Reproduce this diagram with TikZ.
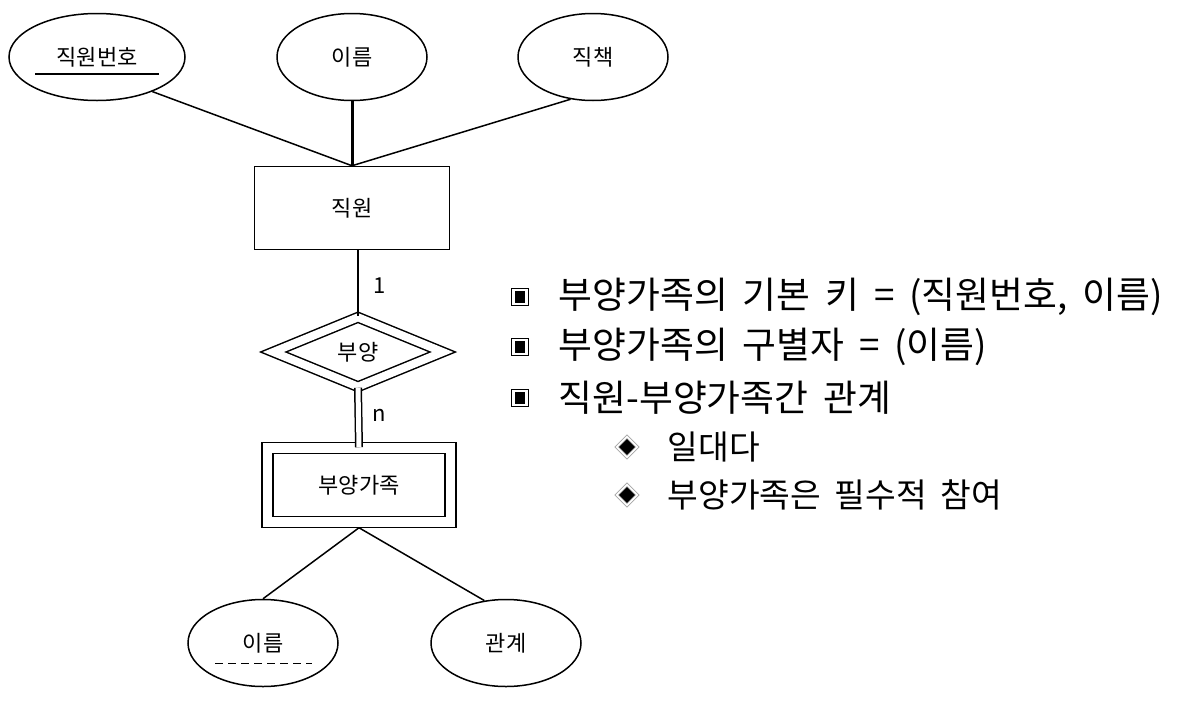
\documentclass[tikz,border=0pt]{standalone}
\usepackage{fontspec}
\setmainfont{Noto Sans CJK KR}
\newfontfamily\notefont[WordSpace=1.8]{Noto Sans CJK KR}
\usetikzlibrary{calc, positioning, shapes.geometric}

\begin{document}
\begin{tikzpicture}[
  x=0.5pt, y=-0.5pt,
  line width=0.75pt,
  attr/.style={ellipse, draw, minimum width=75pt, minimum height=43.5pt, inner sep=0pt, font=\fontsize{11pt}{13pt}\selectfont},
  entity/.style={rectangle, draw, minimum width=97.5pt, minimum height=41.5pt, inner sep=0pt, font=\fontsize{11pt}{13pt}\selectfont},
  weakent/.style={entity, double, double distance=4.6pt, minimum width=91.5pt, minimum height=37pt},
  weakrel/.style={diamond, draw, double, double distance=4pt, aspect=2.4, minimum width=85pt, minimum height=35pt, inner sep=0pt, font=\fontsize{11pt}{13pt}\selectfont},
  card/.style={font=\fontsize{11pt}{13pt}\selectfont, inner sep=0pt},
  item/.style={anchor=west, inner sep=0pt, font=\notefont\fontsize{18.4pt}{20pt}\selectfont},
  subitem/.style={item, font=\notefont\fontsize{16.7pt}{19pt}\selectfont},
  boxbullet/.style={rectangle, draw, line width=0.5pt, minimum size=8.5pt, inner sep=0pt,
    path picture={\fill ($(path picture bounding box.center)+(-2.6pt,-2.9pt)$) rectangle ++(5.2pt,5.8pt);}},
  dmdbullet/.style={diamond, fill=black, draw=gray!70, line width=0.4pt, double=white, double distance=0.8pt, minimum size=10.5pt, inner sep=0pt}
]
  \useasboundingbox (0,0) rectangle (1183,702);

  % entity and its attributes
  \node[attr, minimum width=88pt] (empno) at (97,57) {직원번호};
  \node[attr] (ename) at (352,57) {이름};
  \node[attr] (title) at (593,57) {직책};
  \node[entity] (emp) at (352,208) {직원};

  \draw[line width=1pt] ($(empno.center)+(-62,17)$) -- ($(empno.center)+(62,17)$);

  \draw (empno.-32) -- (emp.north);
  \draw[line width=1.5pt] (ename.south) -- (emp.north);
  \draw (title.-118) -- (emp.north);

  % weak relationship
  \node[weakrel] (dep) at (358,352) {부양};
  \node[weakent] (family) at (359,485) {부양가족};

  \draw (dep.north |- emp.south) -- (dep.north);
  \draw[double, double distance=2.5pt] (dep.south) -- (family.north);
  \node[card] (one) at (380,286) {1};
  \node[card] (many) at (379,415) {n};

  % attributes of the weak entity
  \node[attr] (fname) at (263,643) {이름};
  \node[attr] (relation) at (506,643) {관계};

  \draw[dashed, dash pattern=on 4pt off 2.5pt, line width=0.5pt] ($(fname.center)+(-48,20)$) -- ($(fname.center)+(49,20)$);

  \draw ($(family.south)+(0,5)$) -- (fname.north);
  \draw ($(family.south)+(0,5)$) -- (relation.117);

  % notes
  \node[boxbullet] (b1) at (520,297) {};
  \node[item] (t1) at (558,297) {부양가족의 기본 키 = (직원번호, 이름)};
  \node[boxbullet] (b2) at (520,347) {};
  \node[item] (t2) at (558,347) {부양가족의 구별자 = (이름)};
  \node[boxbullet] (b3) at (520,398) {};
  \node[item] (t3) at (558,398) {직원-부양가족간 관계};
  \node[dmdbullet] (d1) at (627,447) {};
  \node[subitem] (s1) at (667,447) {일대다};
  \node[dmdbullet] (d2) at (627,495) {};
  \node[subitem] (s2) at (667,495) {부양가족은 필수적 참여};
\end{tikzpicture}
\end{document}
